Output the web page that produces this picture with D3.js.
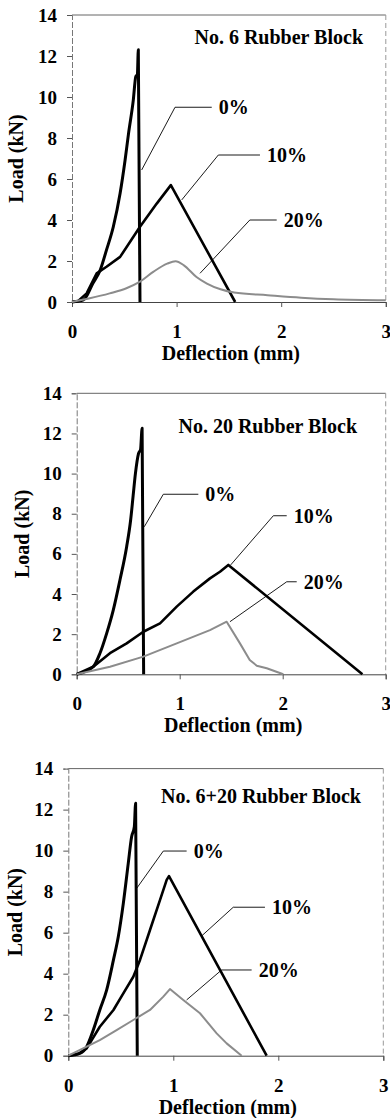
<!DOCTYPE html>
<html>
<head>
<meta charset="utf-8">
<script src="https://cdn.jsdelivr.net/npm/d3@7"></script>
<style>
  html, body { margin: 0; padding: 0; background: #fff; }
  svg { display: block; }
  svg text { font-family: "Liberation Serif", "Times New Roman", serif !important; font-weight: bold !important; fill: #000; }
</style>
</head>
<body>
<svg id="chart" width="390" height="1118"></svg>
<script>
// Axis ticks shared by all three panels
const xTicks = [0, 1, 2, 3];
const yTicks = [0, 2, 4, 6, 8, 10, 12, 14];
const seriesNames = ["0%", "10%", "20%"];
const panelTitles = ["No. 6 Rubber Block", "No. 20 Rubber Block", "No. 6+20 Rubber Block"];
const xAxisTitle = "Deflection (mm)";
const yAxisTitle = "Load (kN)";

// Load–deflection curves, [deflection mm, load kN]
// No. 6 rubber block
const no6_0 = [[0,0],[0.11,0.1],[0.2,0.91],[0.27,1.56],[0.33,2.54],[0.395,3.67],[0.46,5.3],[0.507,6.9],[0.54,8.2],[0.586,9.85],[0.61,11.0],[0.625,11.1],[0.634,12.3],[0.65,0]];
const no6_10 = [[0,0],[0.06,0.05],[0.14,0.42],[0.236,1.4],[0.33,1.72],[0.46,2.2],[0.65,3.67],[0.81,4.8],[0.945,5.7],[1.56,0]];
const no6_20 = [[0,0],[0.17,0.18],[0.36,0.42],[0.52,0.67],[0.65,0.99],[0.78,1.48],[0.91,1.87],[0.99,1.99],[1.07,1.79],[1.19,1.22],[1.29,0.9],[1.42,0.62],[1.55,0.46],[1.87,0.33],[2.19,0.21],[2.5,0.13],[3.0,0.08]];

// No. 20 rubber block
const no20_0 = [[0,0],[0.161,0.38],[0.226,1.05],[0.291,2.04],[0.355,3.2],[0.42,4.7],[0.485,6.36],[0.524,7.7],[0.548,8.9],[0.57,10.0],[0.6,11.0],[0.62,11.2],[0.635,12.26],[0.65,0]];
const no20_10 = [[0,0],[0.161,0.38],[0.323,1.05],[0.485,1.54],[0.647,2.12],[0.809,2.54],[0.971,3.37],[1.132,4.12],[1.294,4.78],[1.391,5.11],[1.472,5.45],[2.774,0]];
const no20_20 = [[0,0],[0.323,0.38],[0.647,0.88],[0.971,1.54],[1.294,2.2],[1.456,2.62],[1.585,1.54],[1.68,0.71],[1.748,0.43],[1.845,0.3],[2.006,0]];

// No. 6+20 rubber block
const no620_0 = [[0,0],[0.11,0.11],[0.175,0.44],[0.238,1.25],[0.3,2.23],[0.365,3.2],[0.43,4.67],[0.476,5.8],[0.524,7.43],[0.571,9.38],[0.603,10.68],[0.629,11.17],[0.641,12.31],[0.657,0]];
const no620_10 = [[0,0],[0.1,0.1],[0.175,0.36],[0.3,1.41],[0.43,2.23],[0.524,3.04],[0.619,3.85],[0.683,4.67],[0.778,6.13],[0.873,7.59],[0.937,8.57],[0.959,8.76],[1.889,0]];
const no620_20 = [[0,0],[0.175,0.44],[0.3,0.76],[0.46,1.25],[0.619,1.74],[0.778,2.23],[0.905,2.88],[0.968,3.25],[1.095,2.72],[1.254,2.07],[1.413,1.09],[1.508,0.6],[1.651,0]];

// Leader lines from each curve to its label, [deflection, load]
const no6_leaders = [
  [[0.666,6.44],[0.985,9.5],[1.336,9.5]],
  [[1.049,4.98],[1.399,7.17],[1.797,7.17]],
  [[1.224,1.4],[1.70,4.0],[1.957,4.0]]
];
const no20_leaders = [
  [[0.656,7.35],[0.841,8.97],[1.181,8.97]],
  [[1.495,5.45],[1.909,7.9],[2.039,7.9]],
  [[1.488,2.62],[2.039,4.61],[2.136,4.61]]
];
const no620_leaders = [
  [[0.651,8.16],[0.905,9.98],[1.127,9.98]],
  [[1.27,5.84],[1.571,7.24],[1.873,7.24]],
  [[1.127,2.72],[1.46,4.18],[1.746,4.18]]
];

// Panel placement on the page; "smooth" marks which series are drawn as smooth curves
const panels = [
  { title: panelTitles[0], series: [no6_0, no6_10, no6_20], leaders: no6_leaders, smooth: [true, false, true],
    left: 72, right: 385.8, top: 15, bottom: 302, titleRight: 363, titleY: 44, yTitleX: 23 },
  { title: panelTitles[1], series: [no20_0, no20_10, no20_20], leaders: no20_leaders, smooth: [true, false, false],
    left: 76.7, right: 385.7, top: 393.3, bottom: 674.3, titleRight: 357, titleY: 433, yTitleX: 29 },
  { title: panelTitles[2], series: [no620_0, no620_10, no620_20], leaders: no620_leaders, smooth: [true, false, false],
    left: 68.3, right: 383.3, top: 768.6, bottom: 1055.7, titleRight: 361, titleY: 803, yTitleX: 22 }
];

const seriesStyle = [
  { stroke: "#000", width: 3 },
  { stroke: "#000", width: 2.6 },
  { stroke: "#8c8c8c", width: 2 }
];

const FONT = "Liberation Serif, Times New Roman, serif";
const svg = d3.select("#chart");

panels.forEach(p => {
  const x = d3.scaleLinear().domain([0, 3]).range([p.left, p.right]);
  const y = d3.scaleLinear().domain([0, 14]).range([p.bottom, p.top]);
  const g = svg.append("g");

  // plot frame: top and right edges
  g.append("line").attr("x1", p.left).attr("x2", p.right).attr("y1", p.top).attr("y2", p.top)
    .attr("stroke", "#666").attr("stroke-width", 1);
  g.append("line").attr("x1", p.right).attr("x2", p.right).attr("y1", p.top).attr("y2", p.bottom)
    .attr("stroke", "#999").attr("stroke-width", 1).attr("stroke-dasharray", "5,3");

  // y axis
  const yAxis = g.append("g").attr("transform", `translate(${p.left},0)`)
    .call(d3.axisLeft(y).tickValues(yTicks).tickSize(5).tickPadding(10).tickFormat(d3.format("d")))
    .attr("font-family", FONT).attr("font-size", 19).attr("font-weight", "bold");
  yAxis.select(".domain").attr("stroke", "#777").attr("stroke-dasharray", "6,2");
  yAxis.selectAll(".tick line").attr("stroke", "#555");
  yAxis.selectAll(".tick text").attr("fill", "#000");

  // x axis
  const xAxis = g.append("g").attr("transform", `translate(0,${p.bottom})`)
    .call(d3.axisBottom(x).tickValues(xTicks).tickSize(5).tickPadding(0).tickFormat(d3.format("d")))
    .attr("font-family", FONT).attr("font-size", 19).attr("font-weight", "bold");
  xAxis.select(".domain").attr("stroke", "#444");
  xAxis.selectAll(".tick line").attr("stroke", "#555");
  xAxis.selectAll(".tick text").attr("fill", "#000").attr("dy", null).attr("y", 36);

  // axis titles
  g.append("text").attr("x", (p.left + p.right) / 2 + 2).attr("y", p.bottom + 58)
    .attr("text-anchor", "middle").attr("font-family", FONT).attr("font-size", 20).text(xAxisTitle);
  g.append("text").attr("transform", `translate(${p.yTitleX},${(p.top + p.bottom) / 2}) rotate(-90)`)
    .attr("text-anchor", "middle").attr("font-family", FONT).attr("font-size", 20).text(yAxisTitle);

  // panel title
  g.append("text").attr("x", p.titleRight).attr("y", p.titleY)
    .attr("text-anchor", "end").attr("font-family", FONT).attr("font-size", 20).text(p.title);

  // curves
  const line = d3.line().x(d => x(d[0])).y(d => y(d[1]));
  const smoothLine = d3.line().x(d => x(d[0])).y(d => y(d[1])).curve(d3.curveMonotoneX);
  p.series.forEach((s, i) => {
    g.append("path").datum(s).attr("d", p.smooth[i] ? smoothLine : line).attr("fill", "none")
      .attr("stroke", seriesStyle[i].stroke).attr("stroke-width", seriesStyle[i].width)
      .attr("stroke-linejoin", "round").attr("stroke-linecap", "butt");
  });

  // leader lines and labels
  p.leaders.forEach((l, i) => {
    g.append("path").datum(l).attr("d", line).attr("fill", "none")
      .attr("stroke", "#000").attr("stroke-width", 0.9);
    const end = l[l.length - 1];
    g.append("text").attr("x", x(end[0]) + 7).attr("y", y(end[1]) + 7)
      .attr("font-family", FONT).attr("font-size", 20).text(seriesNames[i]);
  });
});
</script>
</body>
</html>
